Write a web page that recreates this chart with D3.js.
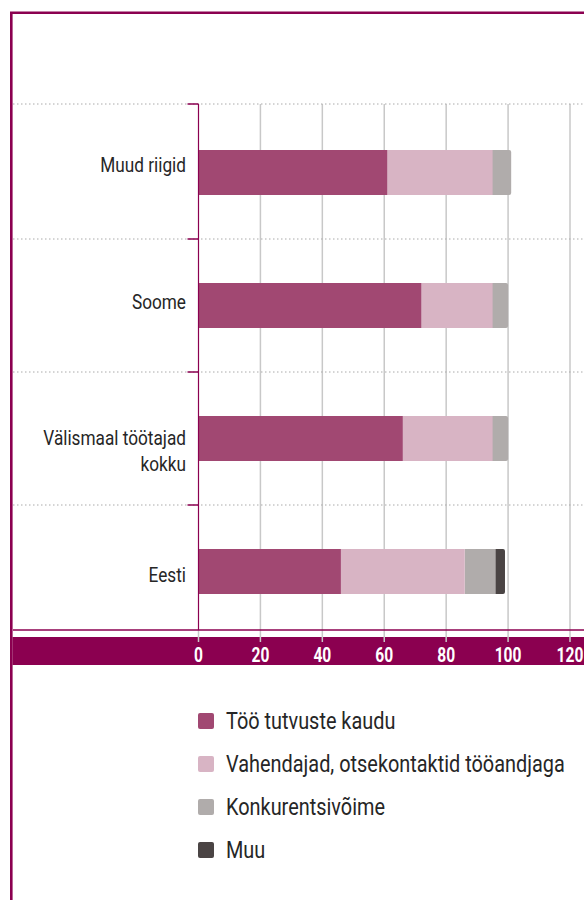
<!DOCTYPE html>
<html>
<head>
<meta charset="utf-8">
<script src="https://cdn.jsdelivr.net/npm/d3@7"></script>
<style>
  html, body { margin: 0; padding: 0; background: #fff; }
  svg { display: block; font-family: "Roboto", "Liberation Sans", sans-serif; }
</style>
</head>
<body>
<div class="container"></div>
<script>
// data
const categories = ['Muud riigid', 'Soome', 'Välismaal töötajad kokku', 'Eesti'];
const labelLines = [['Muud riigid'], ['Soome'], ['Välismaal töötajad', 'kokku'], ['Eesti']];
const seriesNames = ['Töö tutvuste kaudu', 'Vahendajad, otsekontaktid tööandjaga', 'Konkurentsivõime', 'Muu'];
const tutvused = [61, 72, 66, 46];
const vahendajad = [34, 23, 29, 40];
const konkurents = [6, 5, 5, 10];
const muu = [0, 0, 0, 3];
const xTicks = [0, 20, 40, 60, 80, 100, 120];

const colors = ['#a14872', '#d8b4c4', '#b0acab', '#4a4444'];
const frameColor = '#8b0050';
// the original font is a condensed one, squeeze Roboto to get close
const squeeze = 0.82;
const legendSqueeze = 0.865;

const W = 584, H = 900;
const svg = d3.select('.container')
  .append('svg')
  .attr('width', W)
  .attr('height', H);

// scales
const x = d3.scaleLinear().domain([0, 120]).range([198.5, 570]);
const y = d3.scaleBand().domain(categories).range([106, 638]).padding(0);
// labels sit on their own spacing
const yLabel = d3.scalePoint().domain(categories).range([164, 574]);
const barH = 45;
const plotTop = 104, plotBottom = 630;

// build stack
const rows = categories.map((c, i) => ({
  cat: c, s0: tutvused[i], s1: vahendajad[i], s2: konkurents[i], s3: muu[i]
}));
const keys = ['s0', 's1', 's2', 's3'];
const stack = d3.stack().keys(keys)(rows);

// frame (top + left edge, runs off the page)
svg.append('path')
  .attr('d', `M${W},12.8 L11.3,12.8 L11.3,${H}`)
  .attr('fill', 'none')
  .attr('stroke', frameColor)
  .attr('stroke-width', 2.6);

// vertical grid lines
svg.append('g')
  .selectAll('line')
  .data(xTicks)
  .join('line')
  .attr('x1', d => x(d)).attr('x2', d => x(d))
  .attr('y1', d => d === 0 ? plotBottom : plotTop)
  .attr('y2', 642)
  .attr('stroke', '#c8c8c8')
  .attr('stroke-width', 1.5);

// dotted separators between categories
const sepY = d => d === categories[0] ? plotTop : y(d);
svg.append('g')
  .selectAll('line')
  .data(categories)
  .join('line')
  .attr('x1', 13).attr('x2', W)
  .attr('y1', sepY)
  .attr('y2', sepY)
  .attr('stroke', '#aaa')
  .attr('stroke-width', 1)
  .attr('stroke-dasharray', '1.5,2.5');

// bars, last segment drawn first so its rounded end tucks under
const lastKey = rows.map(r => keys.filter(k => r[k] > 0).length - 1);
for (let k = stack.length - 1; k >= 0; k--) {
  const isLast = d => lastKey[categories.indexOf(d.data.cat)] === k;
  svg.append('g')
    .selectAll('rect')
    .data(stack[k].filter(d => d[1] > d[0]))
    .join('rect')
    .attr('x', d => x(d[0]) - (isLast(d) && k > 0 ? 3 : 0))
    .attr('width', d => x(d[1]) - x(d[0]) + (isLast(d) && k > 0 ? 3 : 0))
    .attr('y', d => y(d.data.cat) + y.bandwidth() / 2 - barH / 2)
    .attr('height', barH)
    .attr('rx', d => isLast(d) ? 2 : 0)
    .attr('fill', colors[k]);
}

// y axis line and ticks
svg.append('line')
  .attr('x1', x(0)).attr('x2', x(0))
  .attr('y1', plotTop).attr('y2', plotBottom)
  .attr('stroke', frameColor)
  .attr('stroke-width', 1.2);

svg.append('g')
  .selectAll('line')
  .data(categories)
  .join('line')
  .attr('x1', x(0) - 11).attr('x2', x(0))
  .attr('y1', sepY)
  .attr('y2', sepY)
  .attr('stroke', frameColor)
  .attr('stroke-width', 1.5);

// category labels
svg.append('g')
  .selectAll('text')
  .data(categories)
  .join('text')
  .attr('transform', d => `translate(186,${yLabel(d) + 8}) scale(${squeeze},1)`)
  .attr('text-anchor', 'end')
  .attr('font-size', 21)
  .attr('fill', '#262626')
  .each(function(d, i) {
    d3.select(this).selectAll('tspan')
      .data(labelLines[i])
      .join('tspan')
      .attr('x', 0)
      .attr('dy', (t, j) => j === 0 ? 0 : 26)
      .text(t => t);
  });

// x axis: line, band and labels
svg.append('line')
  .attr('x1', 13).attr('x2', W)
  .attr('y1', plotBottom).attr('y2', plotBottom)
  .attr('stroke', frameColor)
  .attr('stroke-width', 1.5);

svg.append('rect')
  .attr('x', 12.5).attr('y', 637)
  .attr('width', W - 12.5).attr('height', 28)
  .attr('fill', frameColor);

// grey ticks poke into the band
svg.append('g')
  .selectAll('line')
  .data(xTicks)
  .join('line')
  .attr('x1', d => x(d)).attr('x2', d => x(d))
  .attr('y1', 637).attr('y2', 642)
  .attr('stroke', '#c8c8c8')
  .attr('stroke-width', 1.5);

svg.append('g')
  .selectAll('text')
  .data(xTicks)
  .join('text')
  .attr('transform', d => `translate(${x(d)},661.5) scale(0.78,1)`)
  .attr('text-anchor', 'middle')
  .attr('font-size', 20)
  .attr('font-weight', 'bold')
  .attr('fill', '#fff')
  .text(d => d);

// legend
const legend = svg.append('g')
  .selectAll('g')
  .data(seriesNames)
  .join('g')
  .attr('transform', (d, i) => `translate(198,${721 + i * 43})`);

legend.append('rect')
  .attr('x', 0).attr('y', -8)
  .attr('width', 16).attr('height', 16)
  .attr('rx', 2)
  .attr('fill', (d, i) => colors[i]);

legend.append('text')
  .attr('transform', `translate(28,8) scale(${legendSqueeze},1)`)
  .attr('font-size', 23)
  .attr('fill', '#262626')
  .text(d => d);
</script>
</body>
</html>
